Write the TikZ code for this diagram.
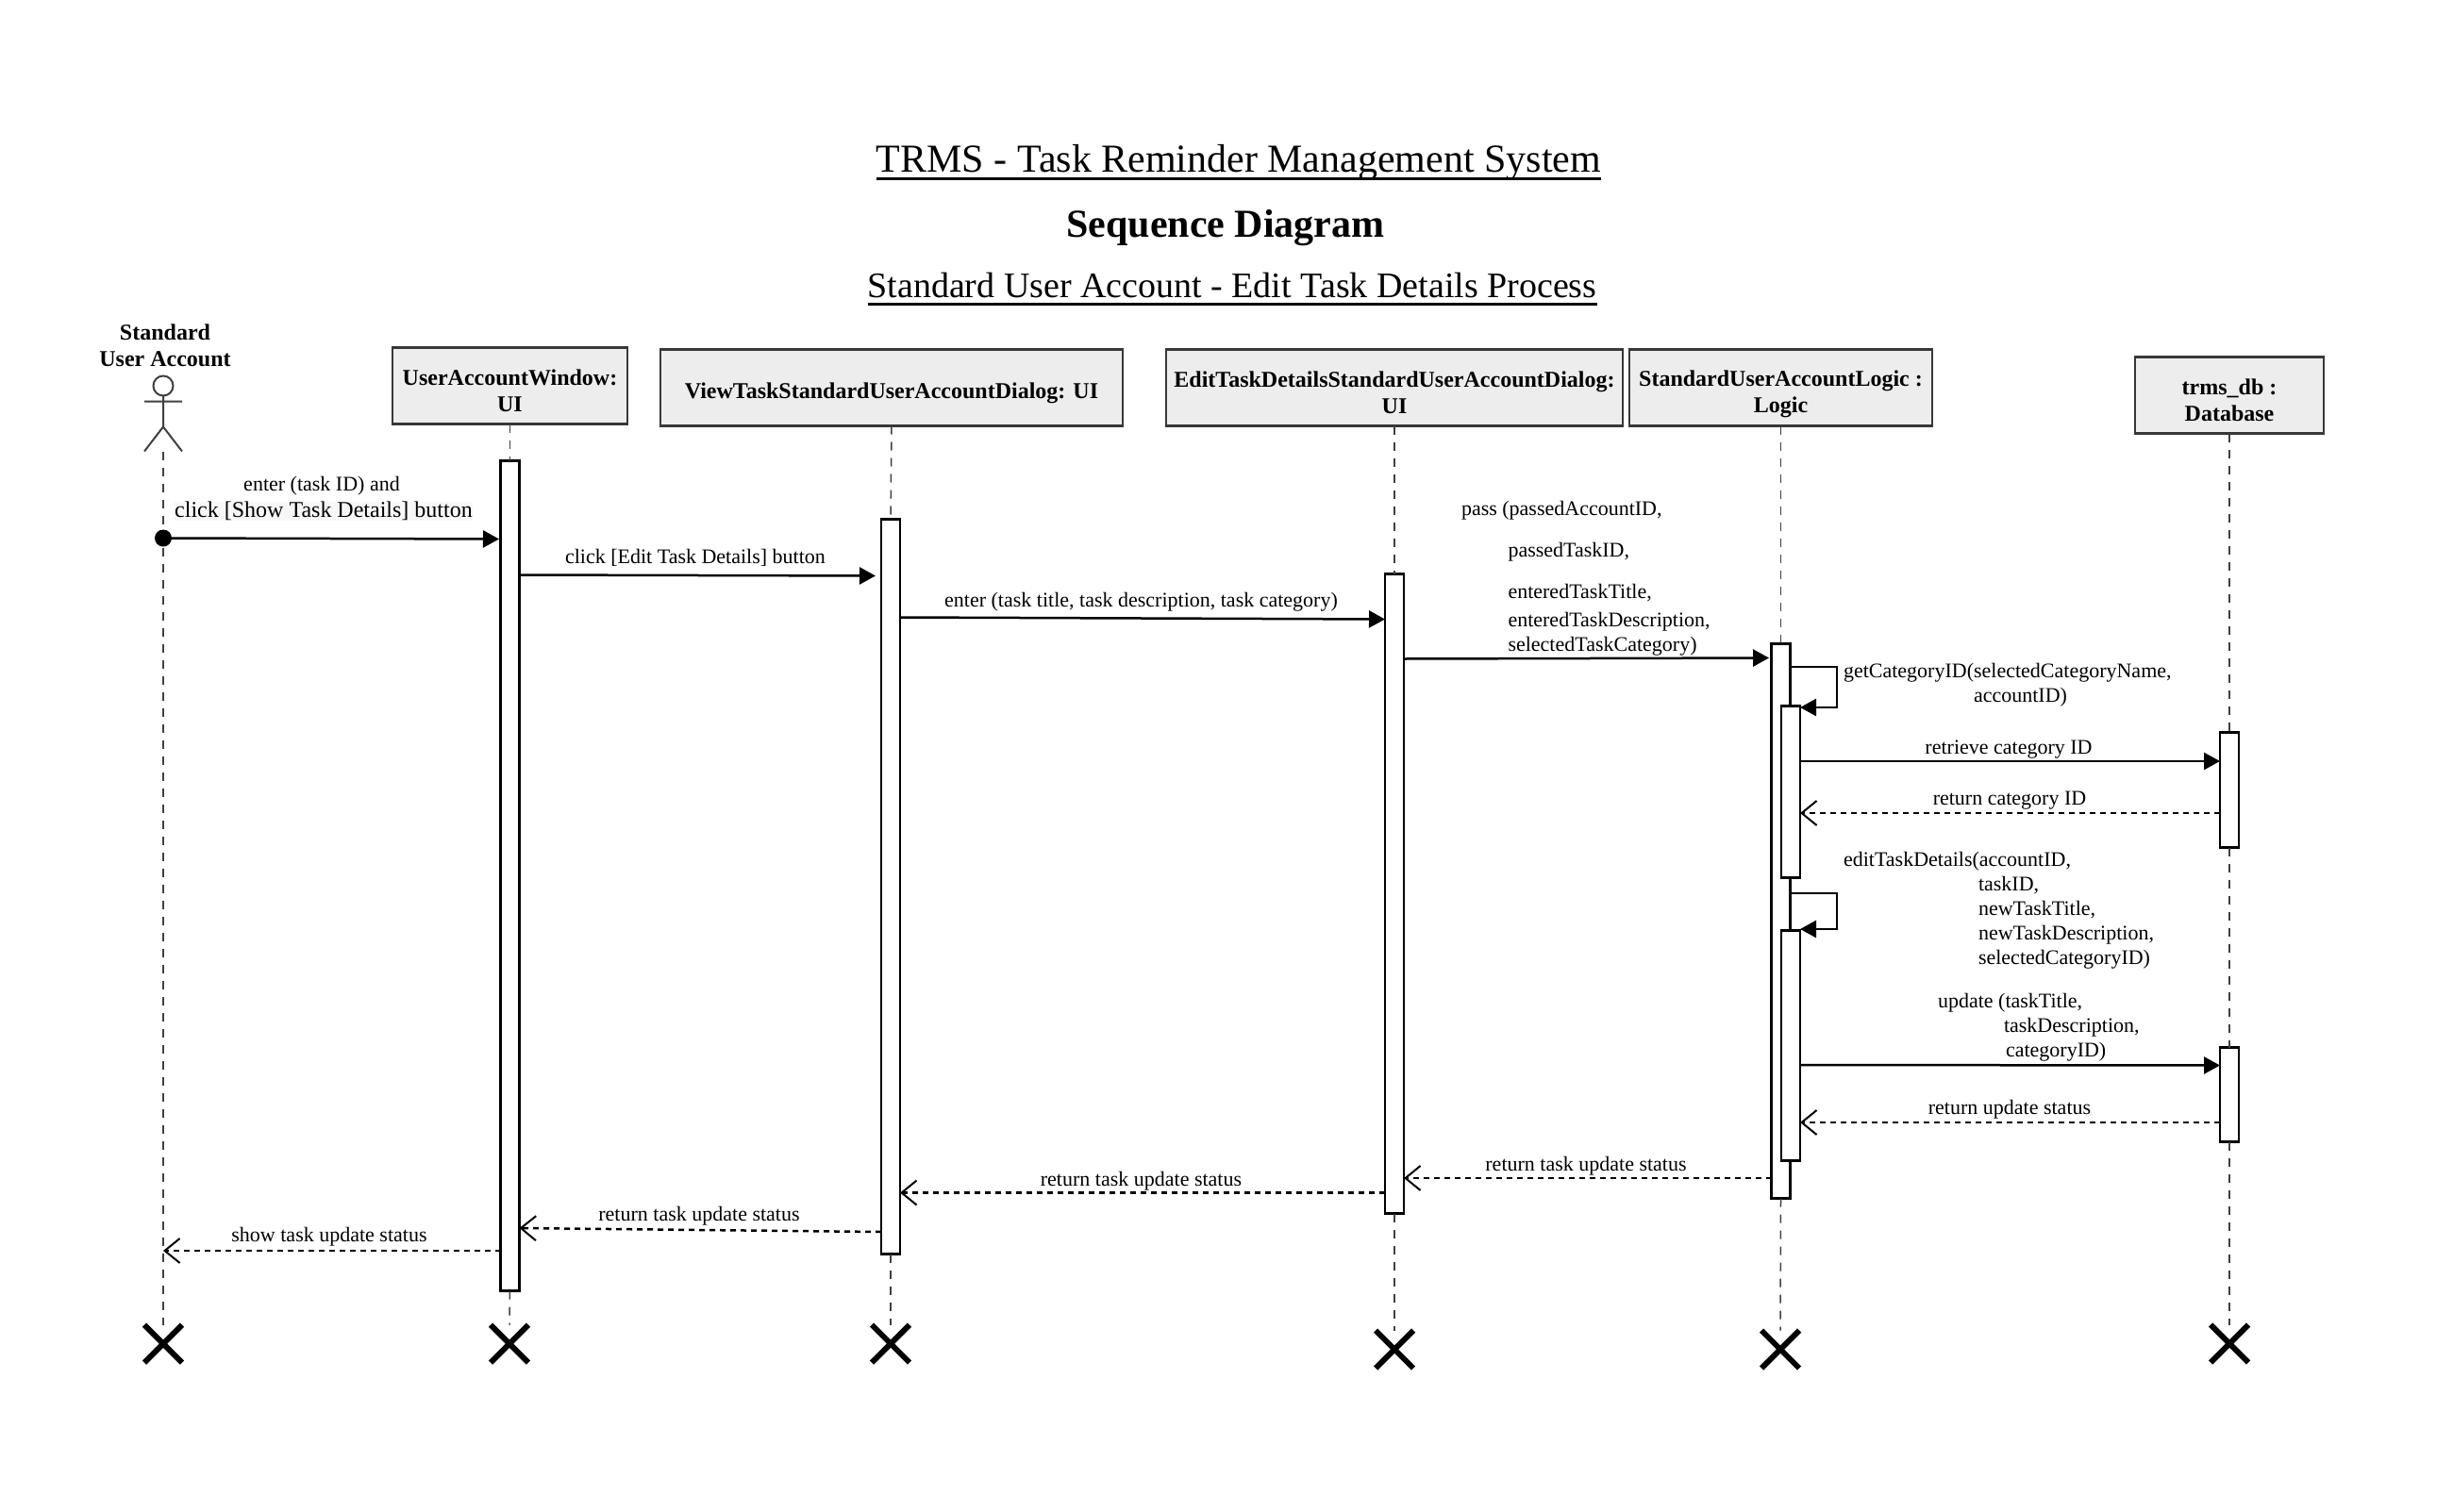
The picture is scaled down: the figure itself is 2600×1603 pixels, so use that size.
\documentclass[tikz,border=0pt]{standalone}
\usepackage{fontspec}
\setmainfont{Liberation Serif}
\usetikzlibrary{arrows.meta,shapes.misc}
\newsavebox{\ulsave}
\newcommand{\myul}[2]{\sbox{\ulsave}{#1}\usebox{\ulsave}\llap{\rule[#2]{\wd\ulsave}{3pt}}}
\newcommand{\hstrut}[1]{\rule{0pt}{#1pt}}
\tikzset{
  every node/.style={inner sep=0pt,outer sep=0pt,text=black},
  headbox/.style={draw=black!78,line width=2.2pt,fill=black!7,align=center,font=\fontsize{24}{28}\selectfont\bfseries},
  lbl/.style={font=\fontsize{22}{26}\selectfont,align=center,yshift=-2pt},
  multilbl/.style={font=\fontsize{22}{26}\selectfont,align=left,anchor=north west},
  activ/.style={draw=black,line width=2.2pt,fill=white,minimum width=20pt},
  lifeline/.style={draw=black!75,line width=1.5pt,dash pattern=on 9pt off 8pt},
  msg/.style={draw=black,line width=2.5pt,-{Triangle[length=17pt,width=18pt]}},
  ret/.style={draw=black,line width=2.5pt,dash pattern=on 6pt off 5pt,-{Straight Barb[length=16pt,width=26pt,line width=2pt]}},
  endx/.style={cross out,draw=black,line width=6pt,minimum size=40pt}
}
\begin{document}
\begin{tikzpicture}[x=1pt,y=-1pt]
\useasboundingbox[fill=white] (0,-1.5) rectangle (2600,1601.5);
% titles
\node[font=\fontsize{42}{48}\selectfont] (title) at (1313,171) {\myul{TRMS - Task Reminder Management System}{-8pt}};
\node[font=\fontsize{42}{50}\selectfont\bfseries] (seq) at (1299,240) {Sequence Diagram};
\node[font=\fontsize{38}{48}\selectfont] (sub) at (1306,305) {\myul{Standard User Account - Edit Task Details Process}{-8pt}};
% heads
\node[headbox,minimum width=249pt,minimum height=81pt] (win) at (540.5,407.5) {\hstrut{28}UserAccountWindow:\\UI};
\node[headbox,minimum width=490pt,minimum height=81pt] (view) at (945,409.5) {\hstrut{28.5}ViewTaskStandardUserAccountDialog: UI};
\node[headbox,minimum width=484pt,minimum height=81pt] (edit) at (1478,409.5) {\hstrut{28}EditTaskDetailsStandardUserAccountDialog:\\UI};
\node[headbox,minimum width=321pt,minimum height=81pt] (logic) at (1887.5,409.5) {\hstrut{30}StandardUserAccountLogic :\\Logic};
\node[headbox,minimum width=200pt,minimum height=81pt] (db) at (2363,417.5) {\hstrut{28}trms\_db :\\Database};
% actor
\node[draw=black!75,line width=2pt,circle,minimum size=21pt,fill=white] (head) at (173,407.5) {};
\coordinate (hip) at (173,451);
\coordinate (feet) at (173,477);
\coordinate (armL) at (153,424);
\coordinate (armR) at (193,424);
\coordinate (footL) at (153,477);
\coordinate (footR) at (193,477);
\draw[draw=black!75,line width=2pt] (head.south) -- (hip) (armL) -- (armR) (footL) -- (hip) -- (footR);
\node[font=\fontsize{24}{28}\selectfont\bfseries,align=center] (actorlbl) at (175,365) {Standard\\User Account};
% activations
\node[activ,anchor=north,minimum height=880pt] (wina) at (540.5,487) {};
\node[activ,anchor=north,minimum height=779pt] (viewa) at (944,549) {};
\node[activ,anchor=north,minimum height=678pt] (edita) at (1478,607) {};
\node[activ,anchor=north,minimum height=588pt] (loga) at (1887.5,681) {};
\node[activ,anchor=north,minimum height=182pt] (logb) at (1898,747) {};
\node[activ,anchor=north,minimum height=244pt] (logc) at (1898,985) {};
\node[activ,anchor=north,minimum height=122pt] (dba) at (2363,775) {};
\node[activ,anchor=north,minimum height=100pt] (dbb) at (2363,1109) {};
% ends
\node[endx] (xa) at (173,1423) {};
\node[endx] (xw) at (540,1423) {};
\node[endx] (xv) at (944,1423) {};
\node[endx] (xe) at (1478,1429) {};
\node[endx] (xl) at (1887,1429) {};
\node[endx] (xd) at (2363,1423) {};
% lifelines
\draw[lifeline] (feet) -- (xa.north);
\draw[lifeline] (win.south) -- (wina.north);
\draw[lifeline] (wina.south) -- (xw.north);
\draw[lifeline] (view.south) -- (viewa.north);
\draw[lifeline] (viewa.south) -- (xv.north);
\draw[lifeline] (edit.south) -- (edita.north);
\draw[lifeline] (edita.south) -- (xe.north);
\draw[lifeline] (logic.south) -- (loga.north);
\draw[lifeline] (loga.south) -- (xl.north);
\draw[lifeline] (db.south) -- (dba.north);
\draw[lifeline] (dba.south) -- (dbb.north);
\draw[lifeline] (dbb.south) -- (xd.north);
% messages
\coordinate (actorline) at (173,569);
\fill[black] (actorline) circle (9pt);
\draw[msg,shorten >=1.5pt] (actorline) -- (wina.west |- 0,570);
\draw[msg,shorten >=6pt] (wina.east |- 0,608) -- (viewa.west |- 0,609);
\draw[msg] (viewa.east |- 0,653) -- (edita.west |- 0,655);
\draw[msg,shorten >=2.5pt] (edita.east |- 0,697) -- (loga.west |- 0,696);
\coordinate (selfa) at (1947,705.5);
\coordinate (selfb) at (1947,748.5);
\draw[msg] (loga.east |- selfa) -- (selfa) -- (selfb) -- (logb.east |- selfb);
\draw[msg] (logb.east |- 0,805.5) -- (dba.west |- 0,805.5);
\draw[ret] (dba.west |- 0,860.5) -- (logb.east |- 0,860.5);
\coordinate (selfc) at (1947,945.5);
\coordinate (selfd) at (1947,983.5);
\draw[msg] (loga.east |- selfc) -- (selfc) -- (selfd) -- (logc.east |- selfd);
\draw[msg] (logc.east |- 0,1127.5) -- (dbb.west |- 0,1128);
\draw[ret] (dbb.west |- 0,1188.5) -- (logc.east |- 0,1188.5);
\draw[ret] (loga.west |- 0,1247.5) -- (edita.east |- 0,1247.5);
\draw[ret] (edita.west |- 0,1263) -- (viewa.east |- 0,1263);
\draw[ret] (viewa.west |- 0,1304.5) -- (wina.east |- 0,1300.5);
\draw[ret] (wina.west |- 0,1324.5) -- (actorline |- 0,1324.5);
% labels
\node[lbl] (l1) at (341,511.5) {enter (task ID) and};
\node[lbl,font=\fontsize{24}{26}\selectfont,fill=black!3] (l2) at (343,538.5) {click [Show Task Details] button};
\node[lbl] (l3) at (737,587.5) {click [Edit Task Details] button};
\node[lbl] (l4) at (1209.5,635) {enter (task title, task description, task category)};
\node[multilbl] (l5) at (1549,530) {pass (passedAccountID,\\[18pt]
\hspace*{49.5pt}passedTaskID,\\[18pt]
\hspace*{49.5pt}enteredTaskTitle,\\[4pt]
\hspace*{49.5pt}enteredTaskDescription,\\
\hspace*{49.5pt}selectedTaskCategory)};
\node[multilbl] (l6) at (1954,702) {getCategoryID(selectedCategoryName,\\\hspace*{138pt}accountID)};
\node[lbl] (l7) at (2129,791) {retrieve category ID};
\node[lbl] (l8) at (2130,845.5) {return category ID};
\node[multilbl] (l9) at (1954,902) {editTaskDetails(accountID,\\
\hspace*{143pt}taskID,\\
\hspace*{143pt}newTaskTitle,\\
\hspace*{143pt}newTaskDescription,\\
\hspace*{143pt}selectedCategoryID)};
\node[multilbl] (l10) at (2054,1052) {update (taskTitle,\\
\hspace*{70pt}taskDescription,\\
\hspace*{72pt}categoryID)};
\node[lbl] (l11) at (2130,1173) {return update status};
\node[lbl] (l12) at (1681,1233) {return task update status};
\node[lbl] (l13) at (1209.5,1248.5) {return task update status};
\node[lbl] (l14) at (741,1286) {return task update status};
\node[lbl] (l15) at (349,1308) {show task update status};
\end{tikzpicture}
\end{document}
